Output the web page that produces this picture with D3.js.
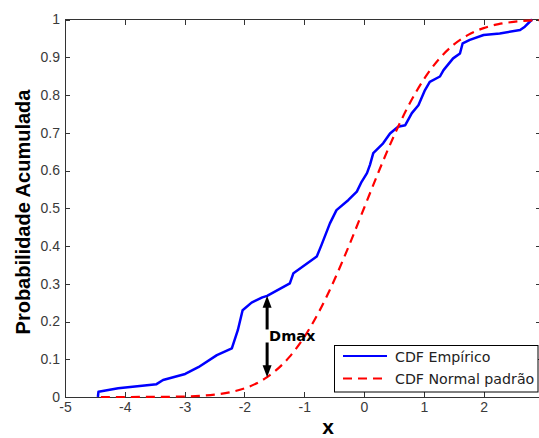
<!DOCTYPE html>
<html>
<head>
<meta charset="utf-8">
<script src="https://cdn.jsdelivr.net/npm/d3@7"></script>
<style>
  body { margin: 0; background: #fff; }
  svg { display: block; }
</style>
</head>
<body>
<svg id="chart" width="539" height="438"></svg>
<script>
// Empirical CDF of the sample (x, cumulative probability)
const empiricalX = [-4.45, -4.44, -4.11, -3.47, -3.36, -2.99, -2.77, -2.46, -2.21, -2.11, -2.03, -1.88, -1.70, -1.62,
  -1.24, -1.18, -0.79, -0.71, -0.57, -0.46, -0.26, -0.12, -0.04, 0.05, 0.10, 0.155, 0.32, 0.435, 0.57, 0.69,
  0.80, 0.91, 1.02, 1.10, 1.27, 1.33, 1.49, 1.605, 1.65, 1.77, 2.00, 2.27, 2.61, 2.69, 2.81];
const empiricalP = [0.000, 0.014, 0.023, 0.034, 0.045, 0.061, 0.079, 0.111, 0.129, 0.177, 0.230, 0.250, 0.264, 0.268,
  0.301, 0.328, 0.372, 0.403, 0.460, 0.495, 0.522, 0.544, 0.570, 0.593, 0.615, 0.646, 0.672, 0.698, 0.716, 0.720,
  0.752, 0.773, 0.813, 0.835, 0.849, 0.866, 0.897, 0.910, 0.937, 0.946, 0.959, 0.963, 0.972, 0.981, 1.000];

// Standard normal CDF
const normalX = [-4.4, -4.0, -3.5, -3.0, -2.75, -2.5, -2.25, -2.0, -1.75, -1.62, -1.5, -1.25, -1.0, -0.75, -0.5, -0.25,
  0, 0.25, 0.5, 0.75, 1.0, 1.25, 1.5, 1.75, 2.0, 2.25, 2.5, 2.75, 2.95];
const normalP = [0.00001, 0.00003, 0.00023, 0.00135, 0.00298, 0.00621, 0.01222, 0.02275, 0.04006, 0.05262, 0.06681,
  0.10565, 0.15866, 0.22663, 0.30854, 0.40129, 0.5, 0.59871, 0.69146, 0.77337, 0.84134, 0.89435, 0.93319,
  0.95994, 0.97725, 0.98778, 0.99379, 0.99702, 0.99841];

// Largest distance between the two curves
const dmaxX = -1.62;
const dmaxUpper = 0.268;
const dmaxLower = 0.0526;

const xTicks = [-5, -4, -3, -2, -1, 0, 1, 2];
const xTickLabels = ["-5", "-4", "-3", "-2", "-1", "0", "1", "2"];
const yTicks = [0, 0.1, 0.2, 0.3, 0.4, 0.5, 0.6, 0.7, 0.8, 0.9, 1];
const yTickLabels = ["0", "0.1", "0.2", "0.3", "0.4", "0.5", "0.6", "0.7", "0.8", "0.9", "1"];
const legendLabels = ["CDF Empírico", "CDF Normal padrão"];

(function draw() {
  const svg = d3.select("#chart");
  const plotLeft = 65, plotRight = 541, plotTop = 19.5, plotBottom = 397;

  const x = d3.scaleLinear().domain([-5, 2.96]).range([plotLeft, plotRight]);
  const y = d3.scaleLinear().domain([0, 1]).range([plotBottom, plotTop]);

  const axisColor = "#333";
  const tickFont = "Liberation Sans, Arial, sans-serif";

  // box
  svg.append("rect")
    .attr("x", plotLeft).attr("y", plotTop)
    .attr("width", plotRight - plotLeft).attr("height", plotBottom - plotTop)
    .attr("fill", "none").attr("stroke", axisColor).attr("stroke-width", 1)
    .attr("shape-rendering", "crispEdges");

  function styleAxis(g, labels) {
    g.select(".domain").remove();
    g.selectAll(".tick line").attr("stroke", axisColor).attr("shape-rendering", "crispEdges");
    g.selectAll(".tick text")
      .attr("fill", "#3a3a3a")
      .style("font-family", tickFont)
      .style("font-size", "14px");
    if (!labels) g.selectAll(".tick text").remove();
  }

  svg.append("g").attr("transform", `translate(0,${plotBottom})`)
    .call(d3.axisBottom(x).tickValues(xTicks).tickFormat((d, i) => xTickLabels[i]).tickSize(-5).tickPadding(5))
    .call(g => styleAxis(g, true));
  svg.append("g").attr("transform", `translate(0,${plotTop})`)
    .call(d3.axisTop(x).tickValues(xTicks).tickSize(-5))
    .call(g => styleAxis(g, false));
  svg.append("g").attr("transform", `translate(${plotLeft},0)`)
    .call(d3.axisLeft(y).tickValues(yTicks).tickFormat((d, i) => yTickLabels[i]).tickSize(-5).tickPadding(5))
    .call(g => styleAxis(g, true));
  svg.append("g").attr("transform", `translate(${plotRight},0)`)
    .call(d3.axisRight(y).tickValues(yTicks).tickSize(-5))
    .call(g => styleAxis(g, false));

  // curves
  const empirical = empiricalX.map((v, i) => [v, empiricalP[i]]);
  const normal = normalX.map((v, i) => [v, normalP[i]]);

  svg.append("clipPath").attr("id", "plot-clip")
    .append("rect").attr("x", plotLeft).attr("y", plotTop - 2)
    .attr("width", plotRight - plotLeft).attr("height", plotBottom - plotTop + 4);

  const line = d3.line().x(d => x(d[0])).y(d => y(d[1]));
  const smooth = d3.line().x(d => x(d[0])).y(d => y(d[1])).curve(d3.curveMonotoneX);

  svg.append("path").datum(empirical)
    .attr("d", line)
    .attr("clip-path", "url(#plot-clip)")
    .attr("fill", "none").attr("stroke", "#0000ff").attr("stroke-width", 2.5)
    .attr("stroke-linejoin", "round");

  svg.append("path").datum(normal)
    .attr("d", smooth)
    .attr("clip-path", "url(#plot-clip)")
    .attr("fill", "none").attr("stroke", "#ff0000").attr("stroke-width", 2.2)
    .attr("stroke-dasharray", "9,6");

  // Dmax double arrow with label
  const ax = x(dmaxX), yTop = y(dmaxUpper), yBot = y(dmaxLower);
  const mid = (yTop + yBot) / 2;
  const headL = 12, headW = 4.5;
  const arrowG = svg.append("g").attr("fill", "#000").attr("stroke", "#000");
  arrowG.append("line").attr("x1", ax).attr("x2", ax).attr("y1", mid - 7).attr("y2", yTop + headL - 1)
    .attr("stroke-width", 3);
  arrowG.append("path").attr("stroke", "none")
    .attr("d", `M${ax},${yTop} L${ax - headW},${yTop + headL} L${ax + headW},${yTop + headL} Z`);
  arrowG.append("line").attr("x1", ax).attr("x2", ax).attr("y1", mid + 6).attr("y2", yBot - headL + 1)
    .attr("stroke-width", 3);
  arrowG.append("path").attr("stroke", "none")
    .attr("d", `M${ax},${yBot} L${ax - headW},${yBot - headL} L${ax + headW},${yBot - headL} Z`);
  svg.append("text")
    .attr("x", ax + 2).attr("y", mid + 5)
    .style("font-family", "DejaVu Sans, sans-serif").style("font-size", "14.5px").style("font-weight", "bold")
    .attr("fill", "#000")
    .text("Dmax");

  // legend
  const lg = svg.append("g");
  lg.append("rect").attr("x", 334.5).attr("y", 345.5).attr("width", 203.5).attr("height", 46.5)
    .attr("fill", "#fff").attr("stroke", "#000").attr("stroke-width", 1);
  const legendStyles = [
    { color: "#0000ff", dash: null, width: 2 },
    { color: "#ff0000", dash: "9,6", width: 2 }
  ];
  legendLabels.forEach((label, i) => {
    const ly = 356 + i * 22.5;
    lg.append("line").attr("x1", 343).attr("x2", 387).attr("y1", ly).attr("y2", ly)
      .attr("stroke", legendStyles[i].color).attr("stroke-width", legendStyles[i].width)
      .attr("stroke-dasharray", legendStyles[i].dash);
    lg.append("text").attr("x", 395).attr("y", ly + 5.5)
      .style("font-family", "DejaVu Sans, sans-serif").style("font-size", "14.2px")
      .attr("fill", "#222")
      .text(label);
  });

  // axis titles
  svg.append("text")
    .attr("transform", "translate(29.5,212) rotate(-90)")
    .attr("text-anchor", "middle")
    .style("font-family", tickFont).style("font-size", "20px").style("font-weight", "bold")
    .attr("fill", "#000")
    .text("Probabilidade Acumulada");
  svg.append("text")
    .attr("x", 328).attr("y", 434)
    .attr("text-anchor", "middle")
    .style("font-family", tickFont).style("font-size", "21px").style("font-weight", "bold")
    .attr("fill", "#000")
    .text("x");
})();
</script>
</body>
</html>
